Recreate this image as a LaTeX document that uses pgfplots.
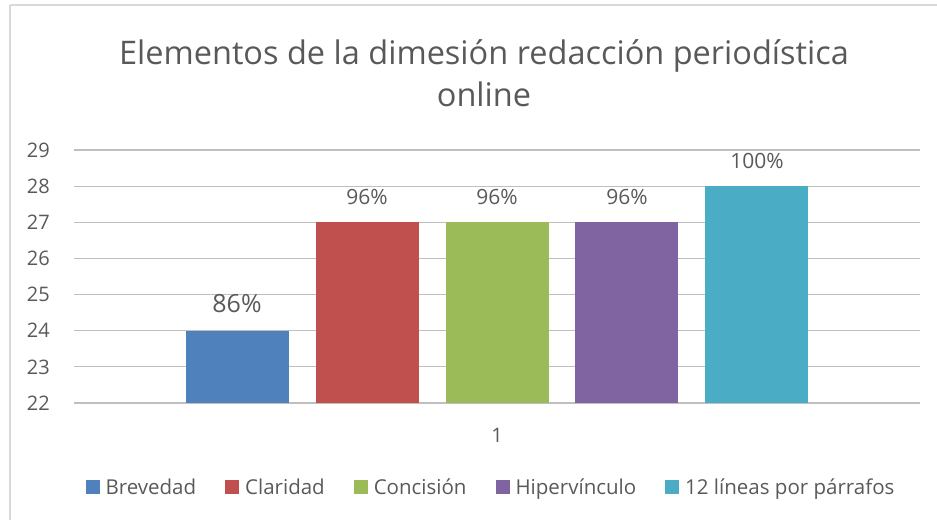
\documentclass[border=0pt]{standalone}
\usepackage{fontspec}
\setmainfont{Open Sans}
\usepackage{pgfplots}
\pgfplotsset{compat=1.18}
\definecolor{txt}{HTML}{595959}
\definecolor{grid}{HTML}{D9D9D9}
\definecolor{cA}{HTML}{4F81BD}
\definecolor{cB}{HTML}{C0504D}
\definecolor{cC}{HTML}{9BBB59}
\definecolor{cD}{HTML}{8064A2}
\definecolor{cE}{HTML}{4BACC6}
\begin{document}
\begin{tikzpicture}[x=1pt,y=1pt]
\useasboundingbox (0,0) rectangle (937,520);
\draw[grid,line width=1.5pt] (10,515) -- (937,515);
\draw[grid,line width=1.5pt] (10,515) -- (10,0);
\node[txt,font=\fontsize{32.5}{38}\selectfont,anchor=base] at (484,455) {Elementos de la dimesión redacción periodística};
\node[txt,font=\fontsize{32.5}{38}\selectfont,anchor=base] at (484,413) {online};
\begin{axis}[
  at={(74pt,117pt)}, anchor=south west,
  scale only axis, width=846pt, height=253pt,
  xmin=0, xmax=2, ymin=22, ymax=29,
  ytick={22,...,29}, xtick={1}, xticklabels={1},
  /pgf/number format/assume math mode=true,
  axis line style={draw=none},
  major tick length=0pt, tick style={draw=none},
  ymajorgrids, xmajorgrids=false, grid style={grid,line width=1.2pt},
  tick label style={txt,font=\fontsize{20}{24}\selectfont},
  yticklabel style={anchor=east,inner sep=0pt,xshift=-24pt},
  xticklabel style={anchor=base,inner sep=0pt,yshift=-39pt},
  ybar, bar width=0.2435, bar shift=0pt,
  every node near coord/.style={txt,font=\fontsize{21}{24}\selectfont,anchor=base,inner sep=0pt,yshift=18pt},
  legend columns=5,
  legend style={draw=none,fill=none,at={(0.4917,-0.332)},anchor=center,
    font=\fontsize{20.5}{24}\selectfont,text=txt,inner sep=0pt,
    /tikz/every odd column/.append style={column sep=6pt},
    /tikz/every even column/.append style={column sep=29pt},
    nodes={inner sep=0pt}},
  legend image code/.code={\fill[#1,draw=none] (0pt,-7pt) rectangle (14pt,7pt);},
  clip=false,
]
\addplot[fill=cA,draw=none,nodes near coords={86\%},every node near coord/.append style={font=\fontsize{25}{28}\selectfont}] coordinates {(0.3854,24)};
\addlegendentry{Brevedad}
\addplot[fill=cB,draw=none,nodes near coords={96\%}] coordinates {(0.6927,27)};
\addlegendentry{Claridad}
\addplot[fill=cC,draw=none,nodes near coords={96\%}] coordinates {(1,27)};
\addlegendentry{Concisión}
\addplot[fill=cD,draw=none,nodes near coords={96\%}] coordinates {(1.3073,27)};
\addlegendentry{Hipervínculo}
\addplot[fill=cE,draw=none,nodes near coords={100\%}] coordinates {(1.6146,28)};
\addlegendentry{12 líneas por párrafos}
\end{axis}
\end{tikzpicture}
\end{document}
